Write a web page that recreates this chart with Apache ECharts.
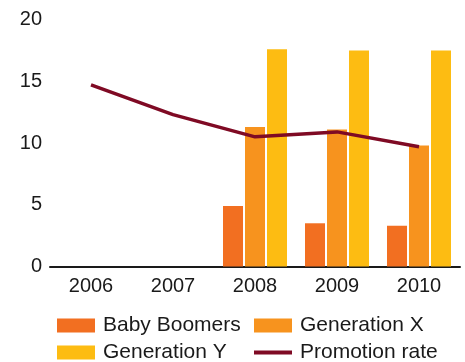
<!DOCTYPE html>
<html>
<head>
<meta charset="utf-8">
<script src="https://cdn.jsdelivr.net/npm/echarts@6/dist/echarts.min.js"></script>
<style>
html,body{margin:0;padding:0;background:#fff;}
#chart{width:465px;height:362px;}
</style>
</head>
<body>
<div id="chart"></div>
<script>
const categories = ['2006', '2007', '2008', '2009', '2010'];
const babyBoomers = [null, null, 4.9, 3.5, 3.3];
const generationX = [null, null, 11.3, 11.1, 9.8];
const generationY = [null, null, 17.6, 17.5, 17.5];
const promotionRate = [14.7, 12.3, 10.5, 10.9, 9.7];
const yTicks = { min: 0, max: 20, interval: 5 };

const FONT = 'Liberation Sans, Arial, Helvetica, sans-serif';
const chart = echarts.init(document.getElementById('chart'));
const legendText = { fontFamily: FONT, fontSize: 21, color: '#1a1a1a', lineHeight: 20, padding: [0, 0, 0, 3] };
const lineIcon = 'path://M0,5L40,5L40,9L0,9Z M0,0L0.01,0L0,0.01Z M40,14L39.99,14L40,13.99Z';

chart.setOption({
  animation: false,
  grid: { left: 50, right: 5, top: 19.5, bottom: 95.5, containLabel: false },
  legend: [
    {
      orient: 'vertical', left: 57, top: 315, height: 120, padding: 0,
      itemWidth: 38, itemHeight: 14, itemGap: 6,
      textStyle: legendText,
      data: [{ name: 'Baby Boomers', icon: 'rect' }, { name: 'Generation Y', icon: 'rect' }]
    },
    {
      orient: 'vertical', left: 254, top: 315, height: 120, padding: 0,
      itemWidth: 38, itemHeight: 14, itemGap: 6,
      textStyle: legendText,
      data: [{ name: 'Generation X', icon: 'rect' }, { name: 'Promotion rate', icon: lineIcon }]
    }
  ],
  xAxis: {
    type: 'category',
    data: categories,
    axisLine: { show: true, lineStyle: { color: '#1a1a1a', width: 2 } },
    axisTick: { show: false },
    axisLabel: { fontFamily: FONT, fontSize: 20, color: '#1a1a1a', margin: 10 }
  },
  yAxis: {
    type: 'value',
    min: yTicks.min, max: yTicks.max, interval: yTicks.interval,
    axisLine: { show: false },
    axisTick: { show: false },
    splitLine: { show: false },
    axisLabel: { fontFamily: FONT, fontSize: 20, color: '#1a1a1a', margin: 8 }
  },
  series: [
    { name: 'Baby Boomers', type: 'bar', data: babyBoomers, barWidth: 20, barGap: '10%', itemStyle: { color: '#F26F21' } },
    { name: 'Generation X', type: 'bar', data: generationX, barWidth: 20, barGap: '10%', itemStyle: { color: '#F7931E' } },
    { name: 'Generation Y', type: 'bar', data: generationY, barWidth: 20, barGap: '10%', itemStyle: { color: '#FDBC12' } },
    { name: 'Promotion rate', type: 'line', data: promotionRate, symbol: 'none', z: 5,
      lineStyle: { color: '#7F0A24', width: 3.5 }, itemStyle: { color: '#7F0A24' } }
  ]
});
</script>
</body>
</html>
